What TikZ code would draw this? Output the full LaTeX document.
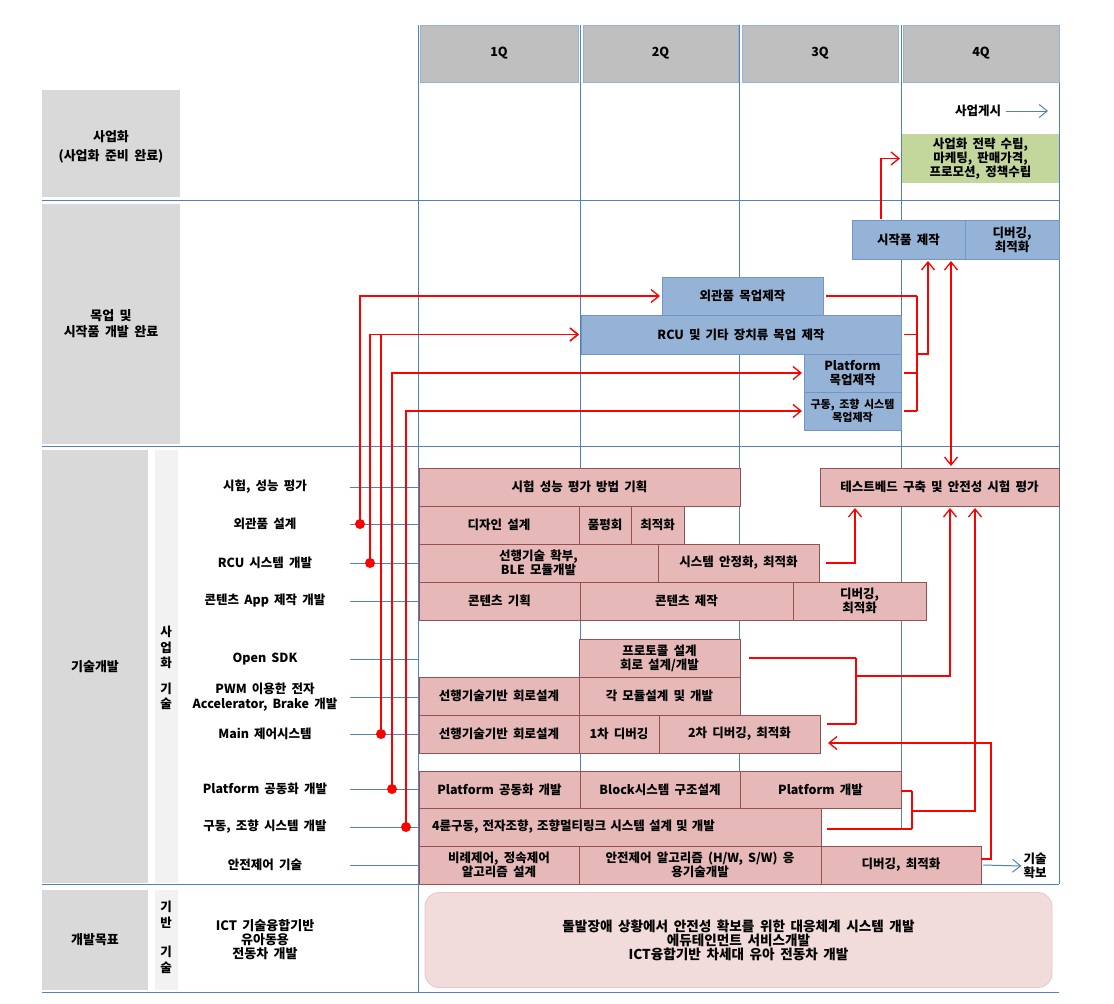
\documentclass[tikz,border=0pt]{standalone}
\usepackage{fontspec}
\setmainfont{Noto Sans CJK KR}[WordSpace=1.8]
\usetikzlibrary{arrows.meta}
\definecolor{gridblue}{RGB}{79,129,189}
\definecolor{hdr}{RGB}{191,191,191}
\definecolor{lgray}{RGB}{217,217,217}
\definecolor{sgray}{RGB}{242,242,242}
\definecolor{mock}{RGB}{149,179,215}
\definecolor{mockline}{RGB}{115,148,200}
\definecolor{pinkf}{RGB}{230,184,183}
\definecolor{pinkline}{RGB}{150,80,80}
\definecolor{grn}{RGB}{195,214,155}
\definecolor{goalf}{RGB}{242,220,219}
\definecolor{goalline}{RGB}{230,200,200}
\newcommand\ft{\bfseries\fontsize{12.5}{14}\selectfont}
\newcommand\mybox[7]{%
  \pgfmathsetmacro\bw{#5-#3}\pgfmathsetmacro\bh{#6-#4}%
  \pgfmathsetmacro\bcx{(#3+#5)/2}\pgfmathsetmacro\bcy{(#4+#6)/2}%
  \node[#2, minimum width=\bw pt, minimum height=\bh pt] (#1) at (\bcx,\bcy) {#7};}
\begin{document}
\begin{tikzpicture}[x=1pt,y=-1pt,
  grid/.style={draw=gridblue, line width=1pt},
  box/.style={draw, line width=0.6pt, inner sep=1pt, outer sep=0pt, align=center, font=\ft},
  hdrbox/.style={box, fill=hdr, draw=gridblue!60},
  lbox/.style={fill=lgray, inner sep=0pt, outer sep=0pt, align=center, font=\bfseries\fontsize{13}{16}\selectfont},
  sbox/.style={fill=sgray, inner sep=0pt, outer sep=0pt},
  mockbox/.style={box, fill=mock, draw=mockline},
  techbox/.style={box, fill=pinkf, draw=pinkline},
  grnbox/.style={box, fill=grn, draw=none},
  rowlab/.style={align=center, inner sep=1pt, font=\ft},
  vtxt/.style={align=center, inner sep=0pt, font=\bfseries\fontsize{12.5}{15.5}\selectfont},
  redline/.style={draw=red, line width=1.3pt},
  redarrow/.style={redline, -{Straight Barb[length=8pt,width=13pt,line width=1.3pt]}, shorten >=2pt},
  bluearrow/.style={draw=gridblue, line width=1pt, -{Straight Barb[length=8pt,width=13pt]}},
  dot/.style={circle, fill=red, inner sep=0pt, minimum size=10pt}
]
\useasboundingbox (0,0) rectangle (1114,1004);
\fill[white] (0,0) rectangle (1114,1004);

% ---------- grid ----------
\draw[grid] (418,25) -- (418,992);
\draw[grid] (580,25) -- (580,884);
\draw[grid] (739,25) -- (739,884);
\draw[grid] (901,25) -- (901,830);
\draw[grid] (1059,25) -- (1059,884);
\draw[grid] (42,200) -- (1059,200);
\draw[grid] (42,446) -- (1059,446);
\draw[grid] (42,884) -- (1059,884);
\draw[grid] (42,992) -- (1059,992);

% ---------- left labels ----------
\mybox{lab1}{lbox}{42}{90}{180}{197}{}
\node[align=center, inner sep=0pt, font=\bfseries\fontsize{13}{16}\selectfont] (lab1t) at (111,147) {사업화\\[3pt](사업화 준비 완료)};
\mybox{lab2}{lbox}{42}{204}{180}{444}{목업 및\\시작품 개발 완료}
\mybox{lab3}{lbox}{42}{450}{148}{883}{}
\node[font=\bfseries\fontsize{13}{16}\selectfont] (lab3t) at (95,667) {기술개발};
\mybox{sub3}{sbox}{155}{450}{178}{883}{}
\node[vtxt] (sub3t) at (166,668) {사\\업\\화\\[10pt]기\\술};
\mybox{lab4}{lbox}{42}{890}{148}{990}{개발목표}
\mybox{sub4}{sbox}{155}{890}{178}{990}{}
\node[vtxt] (sub4t) at (166,937.5) {기\\반\\[14pt]기\\술};
\node[align=center, inner sep=0pt, font=\bfseries\fontsize{13}{14}\selectfont] (ict) at (265,940) {ICT 기술융합기반\\유아동용\\전동차 개발};

% ---------- headers ----------
\mybox{h1}{hdrbox}{420}{25}{578}{82}{1Q}
\mybox{h2}{hdrbox}{583}{25}{738}{82}{2Q}
\mybox{h3}{hdrbox}{742}{25}{898}{82}{3Q}
\mybox{h4}{hdrbox}{903}{25}{1059}{82}{4Q}

% ---------- row labels ----------
\node[rowlab] (rl1) at (265,487) {시험, 성능 평가};
\node[rowlab] (rl2) at (265,524) {외관품 설계};
\node[rowlab] (rl3) at (265,563) {RCU 시스템 개발};
\node[rowlab] (rl4) at (265,601) {콘텐츠 App 제작 개발};
\node[rowlab] (rl5) at (265,659) {Open SDK};
\node[rowlab, font=\bfseries\fontsize{12.5}{15}\selectfont] (rl6) at (265,697) {PWM 이용한 전자\\Accelerator, Brake 개발};
\node[rowlab] (rl7) at (265,734) {Main 제어시스템};
\node[rowlab] (rl8) at (265,789) {Platform 공동화 개발};
\node[rowlab] (rl9) at (265,827) {구동, 조향 시스템 개발};
\node[rowlab] (rl10) at (265,865) {안전제어 기술};
\coordinate (tl) at (418,0);
\foreach \yy in {487,524,563,601,659,697,734,789,827,865}{
  \coordinate (st) at (350,\yy);
  \draw[grid] (st) -- (st -| tl);
}

% ---------- business ----------
\node[font=\ft, inner sep=1pt] (sg) at (978,111) {사업게시};
\coordinate (sge) at (1048,111);
\draw[bluearrow] ([xshift=4pt]sg.east) -- (sge);
\mybox{grn}{grnbox}{902}{134}{1059}{183}{사업화 전략 수립,\\마케팅, 판매가격,\\프로모션, 정책수립}

% ---------- mock-up ----------
\mybox{proto}{mockbox}{852}{220}{965}{259}{시작품 제작}
\mybox{dbg}{mockbox}{965}{220}{1059}{259}{디버깅,\\최적화}
\mybox{mo1}{mockbox}{662}{277}{823}{315}{외관품 목업제작}
\mybox{mo2}{mockbox}{581}{315}{901}{354}{RCU 및 기타 장치류 목업 제작}
\mybox{mo3}{mockbox}{804}{354}{901}{392}{Platform\\목업제작}
\mybox{mo4}{mockbox, font=\bfseries\fontsize{11}{13}\selectfont}{804}{392}{901}{430}{구동, 조향 시스템\\목업제작}

% ---------- tech boxes ----------
\mybox{r1}{techbox}{419}{468}{740}{506}{시험 성능 평가 방법 기획}
\mybox{tb}{techbox}{820}{468}{1059}{506}{테스트베드 구축 및 안전성 시험 평가}
\mybox{r2a}{techbox}{419}{506}{579}{544}{디자인 설계}
\mybox{r2b}{techbox}{579}{506}{631}{544}{품평회}
\mybox{r2c}{techbox}{631}{506}{684}{544}{최적화}
\mybox{r3a}{techbox}{419}{544}{658}{582}{선행기술 확부,\\BLE 모듈개발}
\mybox{r3b}{techbox}{658}{544}{819}{582}{시스템 안정화, 최적화}
\mybox{r4a}{techbox}{419}{582}{580}{620}{콘텐츠 기획}
\mybox{r4b}{techbox}{580}{582}{793}{620}{콘텐츠 제작}
\mybox{r4c}{techbox}{793}{582}{926}{620}{디버깅,\\최적화}
\mybox{os}{techbox}{579}{639}{740}{677}{프로토콜 설계\\회로 설계/개발}
\mybox{pw1}{techbox}{419}{677}{579}{715}{선행기술기반 회로설계}
\mybox{pw2}{techbox}{579}{677}{740}{715}{각 모듈설계 및 개발}
\mybox{m1}{techbox}{419}{715}{579}{753}{선행기술기반 회로설계}
\mybox{m2}{techbox}{579}{715}{659}{753}{1차 디버깅}
\mybox{m3}{techbox}{659}{715}{820}{753}{2차 디버깅, 최적화}
\mybox{p1}{techbox}{419}{771}{580}{808}{Platform 공동화 개발}
\mybox{p2}{techbox}{580}{771}{740}{808}{Block시스템 구조설계}
\mybox{p3}{techbox}{740}{771}{901}{808}{Platform 개발}
\node[techbox, minimum height=38pt, text width=376pt, align=left, inner xsep=13pt] (dr) at (620,827) {4륜구동, 전자조향, 조향멀티링크 시스템 설계 및 개발};
\mybox{s1}{techbox}{419}{846}{579}{884}{비례제어, 정속제어\\알고리즘 설계}
\mybox{s2}{techbox}{579}{846}{821}{884}{안전제어 알고리즘 (H/W, S/W) 응\\용기술개발}
\mybox{s3}{techbox}{821}{846}{981}{884}{디버깅, 최적화}
\node[align=center, inner sep=0pt, font=\ft] (gs) at (1035,866) {기술\\확보};
\draw[bluearrow] ([xshift=2pt]s3.east) -- ([xshift=-2pt]gs.west);

% ---------- goal ----------
\node[draw=goalline, fill=goalf, rounded corners=14pt, line width=0.8pt, minimum width=627pt, minimum height=95pt, align=center, font=\bfseries\fontsize{13.6}{14}\selectfont] (goal) at (738.5,940) {돌발장애 상황에서 안전성 확보를 위한 대응체계 시스템 개발\\에듀테인먼트 서비스개발\\ICT융합기반 차세대 유아 전동차 개발};

% ---------- red connectors: left ----------
\draw[redarrow] (360,524) |- (mo1.west);
\draw[redarrow] (370,563) |- (mo2.west);
\draw[redarrow] (381,734) |- (mo2.west);
\draw[redarrow] (392,789) |- (mo3.west);
\draw[redarrow] (406,827) |- (mo4.west);
\node[dot] (d1) at (360,524) {};
\node[dot] (d2) at (370,563) {};
\node[dot] (d3) at (381,734) {};
\node[dot] (d4) at (392,789) {};
\node[dot] (d5) at (406,827) {};

% ---------- red connectors: mock-up bracket ----------
\coordinate (bkx) at (917,0);
\draw[redline] ([xshift=3pt]mo1.east) -- (mo1.east -| bkx);
\draw[redline] ([xshift=3pt]mo2.east) -- (mo2.east -| bkx);
\draw[redline] ([xshift=3pt]mo3.east) -- (mo3.east -| bkx);
\draw[redline] ([xshift=3pt]mo4.east) -- (mo4.east -| bkx);
\draw[redline] (mo1.east -| bkx) -- (mo4.east -| bkx);
\coordinate (j1) at (917,354);
\coordinate (j1b) at (928,354);
\draw[redarrow] (j1) -- (j1b) -- (j1b |- proto.south);
\coordinate (pgx) at (881,0);
\draw[redarrow] ([yshift=1pt]proto.north -| pgx) |- (grn.west);
\coordinate (dax) at (951,0);
\draw[redline, {Straight Barb[length=8pt,width=13pt,line width=1.3pt]}-{Straight Barb[length=8pt,width=13pt,line width=1.3pt]}, shorten >=2pt, shorten <=2pt] (proto.south -| dax) -- (tb.north -| dax);

% ---------- red connectors: tech ----------
\coordinate (c1) at (855,0);
\draw[redarrow] ([xshift=7pt]r3b.east) -| (c1 |- tb.south);
\coordinate (bax) at (856,0);
\coordinate (ms) at (827,724);
\draw[redline] ([xshift=9pt]os.east) -- (os.east -| bax);
\draw[redline] (ms) -- (ms -| bax);
\draw[redline] (os.east -| bax) -- (ms -| bax);
\coordinate (ja) at (856,676);
\coordinate (jax) at (950,676);
\draw[redarrow] (ja) -- (jax) -- (jax |- tb.south);
\coordinate (bbx) at (912,0);
\coordinate (p3s) at (901,791);
\coordinate (drs) at (827,829);
\draw[redline] (p3s) -- (p3s -| bbx);
\draw[redline] (drs) -- (drs -| bbx);
\draw[redline] (p3s -| bbx) -- (drs -| bbx);
\coordinate (jb) at (912,811);
\coordinate (jbx) at (975,811);
\draw[redarrow] (jb) -- (jbx) -- (jbx |- tb.south);
\draw[redarrow] ([yshift=6pt]s3.east) -- ++(10,0) |- ([xshift=6pt,yshift=-9pt]m3.east);
\end{tikzpicture}
\end{document}
